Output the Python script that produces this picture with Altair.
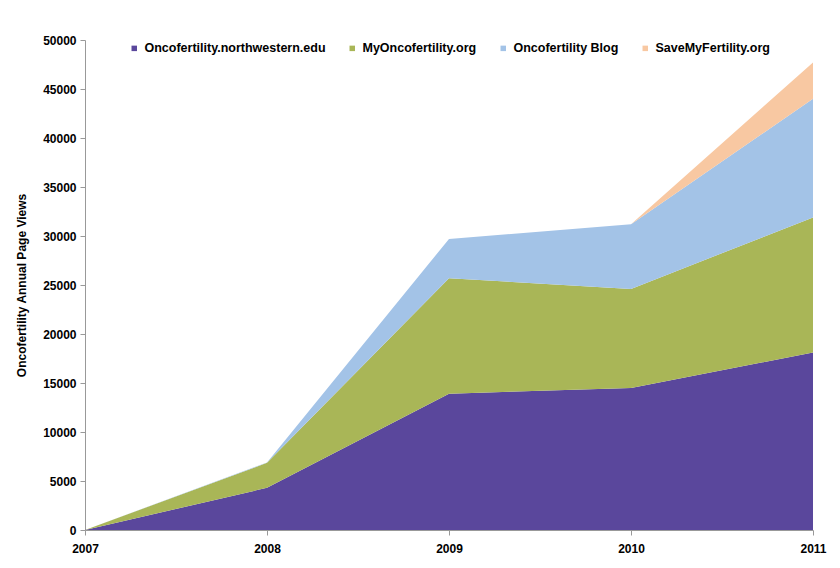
import altair as alt
import pandas as pd

years = [2007, 2008, 2009, 2010, 2011]
series = ["Oncofertility.northwestern.edu", "MyOncofertility.org", "Oncofertility Blog", "SaveMyFertility.org"]
northwestern = [0, 4300, 13900, 14500, 18100]
myonco = [0, 2550, 11800, 10100, 13800]
blog = [0, 50, 4000, 6600, 12100]
savemy = [0, 0, 0, 0, 3700]
colors = ["#5A479C", "#A9B657", "#A3C3E7", "#F8C8A2"]

rows = []
for i, (name, vals) in enumerate(zip(series, [northwestern, myonco, blog, savemy])):
    for y, v in zip(years, vals):
        rows.append({"Year": y, "Site": name, "Views": v, "idx": i})
df = pd.DataFrame(rows)

font = "Liberation Sans"

chart = alt.Chart(df).mark_area(opacity=1).encode(
    x=alt.X("Year:Q",
            scale=alt.Scale(domain=[2007, 2011], nice=False, zero=False),
            axis=alt.Axis(values=years, format="d", title=None, grid=False,
                          labelFont=font, labelFontWeight="bold", labelFontSize=12,
                          labelColor="black", labelPadding=8, tickSize=5,
                          labelFlush=False, labelOverlap=False,
                          domainColor="#999999", tickColor="#999999")),
    y=alt.Y("Views:Q", stack="zero",
            scale=alt.Scale(domain=[0, 50000], nice=False),
            axis=alt.Axis(values=list(range(0, 50001, 5000)), format="d",
                          title="Oncofertility Annual Page Views",
                          grid=False, labelFont=font, labelFontWeight="bold", labelFontSize=12,
                          labelColor="black", titleFont=font, titleFontWeight="bold",
                          titleFontSize=12, titleColor="black", titlePadding=14,
                          tickSize=5, labelPadding=4, labelFlush=False,
                          domainColor="#999999", tickColor="#999999")),
    color=alt.Color("Site:N", scale=alt.Scale(domain=series, range=colors),
                    legend=alt.Legend(title=None, orient="none", legendX=43, legendY=2,
                                      direction="horizontal", symbolType="square",
                                      symbolSize=30, labelFont=font, labelFontWeight="bold",
                                      labelFontSize=12.5, labelColor="black", labelLimit=400,
                                      columnPadding=20, labelOffset=4)),
    order=alt.Order("idx:Q", sort="ascending"),
).properties(
    width=728, height=490,
    autosize=alt.AutoSizeParams(type="none"),
    padding={"left": 77, "top": 32, "right": 19, "bottom": 30},
).configure_view(stroke=None)

chart.save("out.html", embed_options={"renderer": "svg", "actions": False})
